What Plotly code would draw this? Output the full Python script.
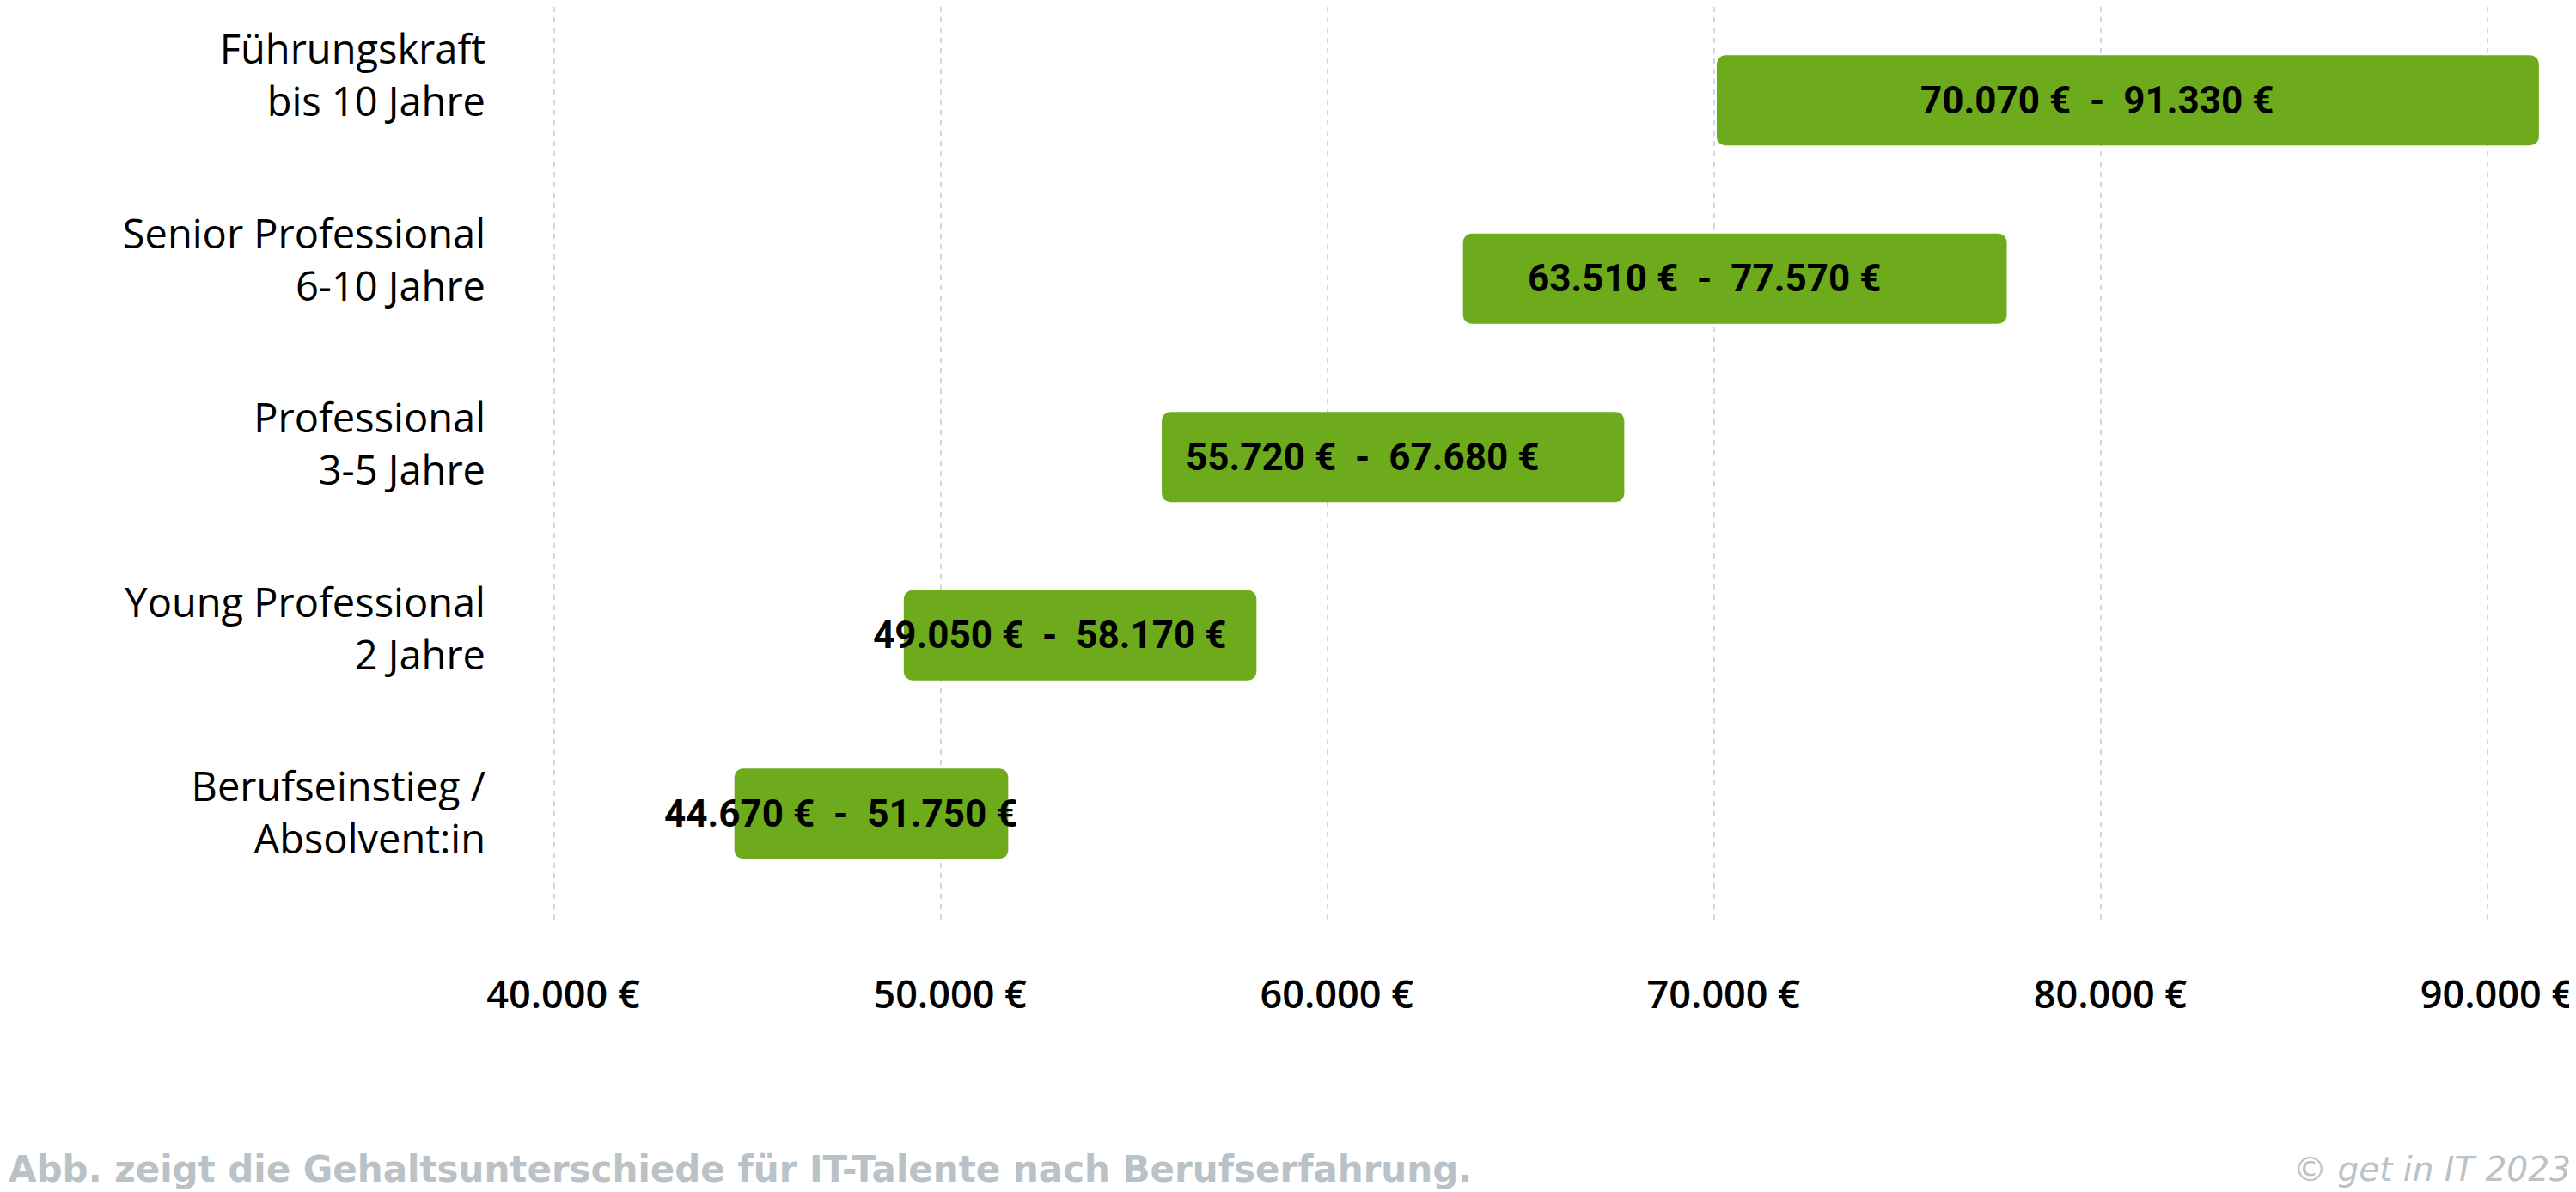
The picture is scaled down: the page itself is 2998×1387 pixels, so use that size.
import plotly.graph_objects as go

# ---------------- data ----------------
categories = [
    "Führungskraft<br>bis 10 Jahre",
    "Senior Professional<br>6-10 Jahre",
    "Professional<br>3-5 Jahre",
    "Young Professional<br>2 Jahre",
    "Berufseinstieg /<br>Absolvent:in",
]
salary_min = [70070, 63510, 55720, 49050, 44670]
salary_max = [91330, 77570, 67680, 58170, 51750]

tick_values = [40000, 50000, 60000, 70000, 80000, 90000]
tick_labels = ["40.000 €", "50.000 €", "60.000 €", "70.000 €", "80.000 €", "90.000 €"]

caption = "Abb. zeigt die Gehaltsunterschiede für IT-Talente nach Berufserfahrung."
copyright_text = "© get in IT 2023"

# ---------------- styling ----------------
# the page body has an 8px margin, so the figure is drawn 8px smaller
W, H = 2990, 1379
GREEN = "#6DAA1C"
GRID = "#C6DCE8"
GREY = "#BAC1C7"
NB = "\u00a0"


def fmt(v):
    return f"{v:,}".replace(",", ".") + NB + "€"


mids = [(a + b) / 2 for a, b in zip(salary_min, salary_max)]
bar_labels = [fmt(a) + NB * 2 + "-" + NB * 2 + fmt(b) for a, b in zip(salary_min, salary_max)]

fig = go.Figure()

fig.add_trace(go.Bar(
    y=categories, x=[hi - lo for lo, hi in zip(salary_min, salary_max)], base=salary_min,
    orientation="h", width=0.505,
    marker=dict(color=GREEN, line=dict(width=0), cornerradius=10),
    hoverinfo="skip", showlegend=False,
))
# invisible trace carrying the category labels axis
fig.add_trace(go.Scatter(
    y=categories, x=salary_min, yaxis="y2", mode="markers", marker=dict(opacity=0),
    hoverinfo="skip", showlegend=False,
))

n = len(categories)
y_dom = [1 - 1067 / H, 1.0]

label_annotations = [
    dict(x=m, y=c, xref="x", yref="y", text=t, showarrow=False, xshift=-36,
         xanchor="center", yanchor="middle",
         font=dict(family="Roboto", size=44, color="#000000", weight="bold"))
    for m, c, t in zip(mids, categories, bar_labels)
]

fig.update_layout(
    width=W, height=H,
    margin=dict(l=0, r=0, t=0, b=0, autoexpand=False),
    paper_bgcolor="white", plot_bgcolor="white",
    barmode="overlay",
    font=dict(family="Open Sans", color="#000000"),
    xaxis=dict(
        domain=[592 / W, 2982 / W],
        range=[39011, 92111],
        tickmode="array", tickvals=tick_values, ticktext=tick_labels,
        tickfont=dict(family="Open Sans", size=45, color="#000000", weight=600),
        showgrid=True, gridcolor=GRID, gridwidth=2, griddash="6px,6px",
        zeroline=False, showline=False, ticks="",
        ticklabelstandoff=52, ticklabelshift=11, automargin=False,
    ),
    yaxis=dict(
        domain=y_dom,
        type="category", categoryorder="array", categoryarray=categories,
        range=[n - 1 + 0.618, -0.524],
        showticklabels=False, showgrid=False, zeroline=False, showline=False, ticks="",
        automargin=False,
    ),
    yaxis2=dict(
        domain=y_dom, overlaying="y", side="left", anchor="x",
        type="category", categoryorder="array", categoryarray=categories,
        range=[n - 1 + 0.599, -0.373],
        tickfont=dict(family="Open Sans", size=47, color="#000000", weight=400),
        showgrid=False, zeroline=False, showline=False, ticks="",
        ticklabelstandoff=34, automargin=False,
    ),
    annotations=label_annotations + [
        dict(text=caption, xref="paper", yref="paper", x=0, y=1 - 1352.5 / H,
             xanchor="left", yanchor="middle", showarrow=False,
             font=dict(family="DejaVu Sans", size=42, color=GREY, weight="bold")),
        dict(text=copyright_text, xref="paper", yref="paper", x=2986 / W, y=1 - 1352.5 / H,
             xanchor="right", yanchor="middle", showarrow=False,
             font=dict(family="DejaVu Sans", size=39, color=GREY, style="italic")),
    ],
)

fig.write_html("out.html")
